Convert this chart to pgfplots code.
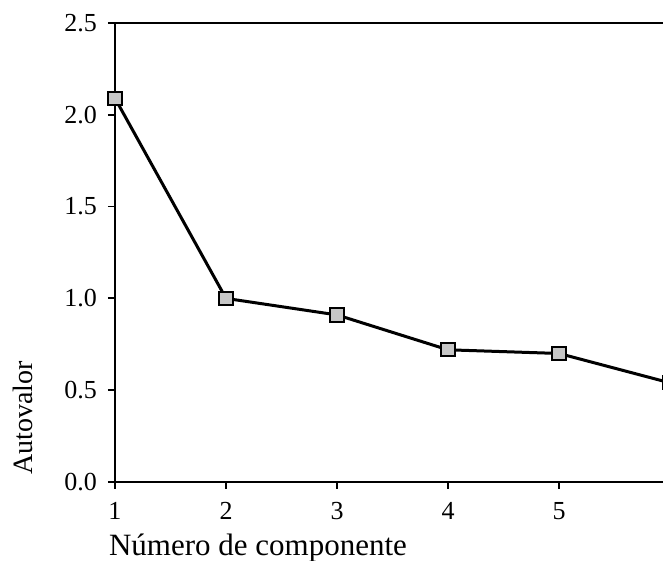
\documentclass[border=0pt]{standalone}
\usepackage{fontspec}
\setmainfont{Liberation Serif}
\usepackage{pgfplots}
\pgfplotsset{compat=1.18}

\begin{document}
\begin{tikzpicture}[font=\fontsize{13}{15}\selectfont]
\begin{axis}[
    x=55.5pt, y=91.8pt,
    xmin=1, xmax=6,
    ymin=0, ymax=2.5,
    axis line style={line width=0.9pt},
    xtick={1,2,3,4,5,6},
    ytick={0,0.5,1,1.5,2,2.5},
    xtick pos=bottom, ytick pos=left,
    tick align=outside,
    major tick length=3.5pt,
    tick style={line width=0.9pt, black},
    /pgf/number format/assume math mode=true,
    xticklabel style={yshift=-3pt},
    yticklabel style={xshift=-2pt, /pgf/number format/fixed,
        /pgf/number format/fixed zerofill, /pgf/number format/precision=1},
    xlabel={Número de componente},
    ylabel={Autovalor},
    xlabel style={at={(axis description cs:-0.0234,-0.144)}, anchor=west,
        font=\fontsize{15.5}{18}\selectfont},
    ylabel style={at={(axis description cs:-0.166,0.14)}, anchor=center,
        font=\fontsize{14}{16}\selectfont},
    clip=false,
]
\addplot[black, line width=1.5pt, mark=square*,
    mark options={fill=gray!45, draw=black, line width=1pt}, mark size=3.3pt]
    coordinates {(1,2.09) (2,1.00) (3,0.91) (4,0.72) (5,0.70) (6,0.54)};
\coordinate (bl) at (axis cs:1,0);
\coordinate (tr) at (axis cs:6,2.5);
\end{axis}
\pgfresetboundingbox
\useasboundingbox ([xshift=-57.5pt,yshift=-39.5pt]bl) rectangle ([xshift=-3.5pt,yshift=11.5pt]tr);
\end{tikzpicture}
\end{document}
